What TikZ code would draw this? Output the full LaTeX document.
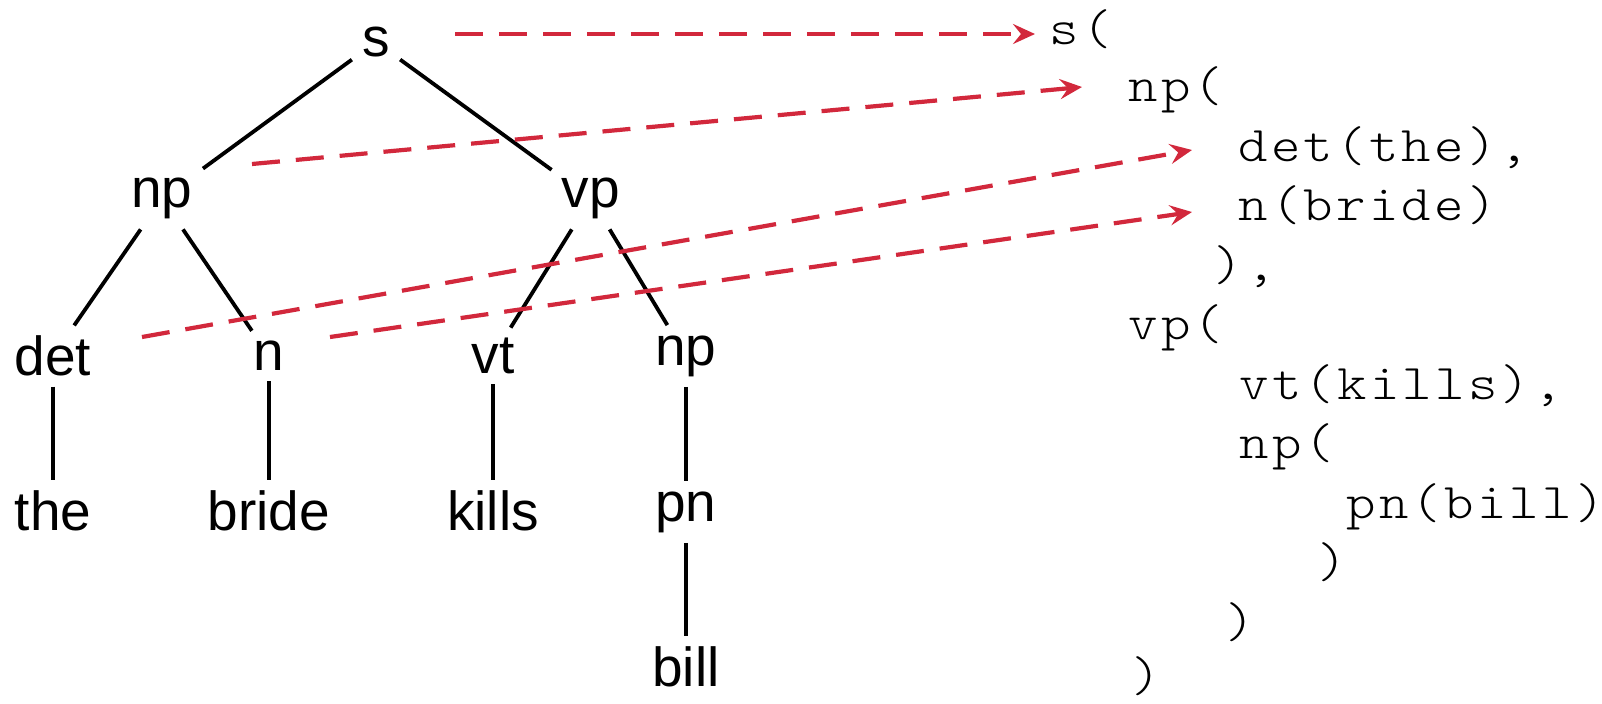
\documentclass[tikz,border=0pt]{standalone}
\usepackage{fontspec}
\setmainfont{Liberation Sans}
\newfontfamily\codefont[FakeStretch=1.12,LetterSpace=6.6]{Latin Modern Mono Light}
\usetikzlibrary{arrows.meta}
\definecolor{arrred}{RGB}{210,40,60}
\begin{document}
\begin{tikzpicture}[x=0.5pt,y=-0.5pt,
  tn/.style={font=\fontsize{27.5pt}{33pt}\selectfont, inner sep=5pt},
  code/.style={font=\codefont\fontsize{25pt}{30pt}\selectfont, inner sep=0pt, anchor=base west},
  edge/.style={line width=1.9pt, black},
  map/.style={draw=arrred, line width=2.1pt, dash pattern=on 14pt off 8pt,
    -{Stealth[length=11pt,width=10pt,inset=4pt]}}]
\useasboundingbox (0,0) rectangle (1602,703);
% tree
\node[tn] (s)    at (376,42)  {s};
\node[tn] (np)   at (162,198.5) {np};
\node[tn] (vp)   at (591,198.5) {vp};
\node[tn] (det)  at (53,356)  {det};
\node[tn] (n)    at (269,356) {n};
\node[tn] (vt)   at (493,356) {vt};
\node[tn] (np2)  at (686,356) {np};
\node[tn] (the)  at (53,511)  {the};
\node[tn] (bride) at (269,511) {bride};
\node[tn] (kills) at (493,511) {kills};
\node[tn] (pn)   at (686,512) {pn};
\node[tn] (bill) at (686,667) {bill};
\draw[edge] (s) -- (np);
\draw[edge] (s) -- (vp);
\draw[edge] (np) -- (det);
\draw[edge] (np) -- (n);
\draw[edge] (vp) -- (vt);
\draw[edge] (vp) -- (np2);
\draw[edge] (det) -- (the);
\draw[edge] (n) -- (bride);
\draw[edge] (vt) -- (kills);
\draw[edge] (np2) -- (pn);
\draw[edge] (pn) -- (bill);
% code
\node[code] (c1)  at (1049,44)    {s(};
\node[code] (c2)  at (1128,101.5) {np(};
\node[code] (c3)  at (1238,161)   {det(the),};
\node[code] (c4)  at (1238,220.5) {n(bride)};
\node[code] (c5)  at (1213,280)   {),};
\node[code] (c6)  at (1128,339.5) {vp(};
\node[code] (c7)  at (1239,399)   {vt(kills),};
\node[code] (c8)  at (1239,458.5) {np(};
\node[code] (c9)  at (1346,518)   {pn(bill)};
\node[code] (c10) at (1317,577.5) {)};
\node[code] (c11) at (1225,637)   {)};
\node[code] (c12) at (1131,691)   {)};
% mapping arrows
\coordinate (m1a) at (455,34);
\coordinate (m1b) at (1035,34);
\coordinate (m2a) at (252,164);
\coordinate (m2b) at (1082,87);
\coordinate (m3a) at (142,337);
\coordinate (m3b) at (1192,150);
\coordinate (m4a) at (330,337);
\coordinate (m4b) at (1192,212);
\draw[map] (m1a) -- (m1b);
\draw[map] (m2a) -- (m2b);
\draw[map] (m3a) -- (m3b);
\draw[map] (m4a) -- (m4b);
\end{tikzpicture}
\end{document}
